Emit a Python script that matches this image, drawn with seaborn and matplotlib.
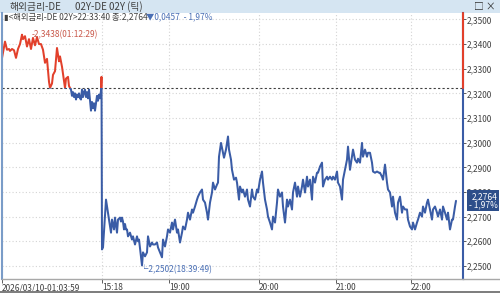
import matplotlib
matplotlib.use("Agg")
import matplotlib.pyplot as plt
import matplotlib.transforms as mtransforms
from matplotlib.patches import Rectangle
from matplotlib.lines import Line2D
from matplotlib.ticker import FixedLocator, FuncFormatter
import numpy as np
import pandas as pd
import seaborn as sns

# ---------------- data ----------------
title_left = "해외금리-DE"
title_right = "02Y-DE 02Y (틱)"
info_text = "▮<해외금리-DE 02Y>22:33:40 종:2,2764"
prev_close = 2.3221
last_price = 2.2764

# tick sequence position (x) and price
ticks = [2, 5, 7, 9, 10, 12, 14, 16, 18, 20, 22, 23, 25, 27, 29, 31, 33, 35, 37, 39, 41, 43, 45, 47, 49,
         50, 52, 53, 55, 57, 59, 60, 62, 65, 66, 68, 69, 70,
         71, 72, 73, 74, 75, 76, 77, 78, 79, 80, 81, 82, 83, 84, 85, 86, 87, 88, 89, 90, 91, 92, 93, 94,
         95, 96, 97, 98, 99, 100, 101, 101.5, 102,
         103, 106, 107, 109, 111, 112, 114, 115, 117, 118, 120, 121, 122, 123, 124, 125, 126, 127, 128,
         130, 132, 133, 135, 137, 138, 139, 142, 143, 145, 147, 148, 150, 152, 153, 155, 157, 158, 160,
         162, 163, 165, 167, 168, 170, 172, 173, 175, 177, 178, 180, 182, 183, 185, 187, 188, 190, 192,
         193, 195, 197, 198, 200, 202, 203, 205, 207, 208, 210, 212, 213, 215, 217, 218, 219, 221, 223,
         224, 226, 228, 229, 231, 232, 234, 236, 237, 239, 240, 242, 243, 245, 247, 248, 250, 252, 253,
         255, 257, 258, 260, 262, 263, 265, 267, 268, 270, 272, 273, 275, 277, 278, 280, 282, 283, 285,
         287, 288, 290, 292, 293, 295, 297, 298, 300, 302, 303, 305, 307, 308, 310, 312, 313, 315, 317,
         318, 320, 322, 323, 325, 327, 328, 330, 332, 333, 335, 337, 338, 340, 342, 343, 345, 347, 348,
         350, 352, 353, 355, 357, 358, 360, 362, 363, 365, 367, 368, 370, 372, 373, 375, 377, 379, 380,
         382, 383, 385, 387, 388, 390, 392, 393, 395, 397, 398, 400, 402, 403, 405, 407, 408, 410, 412,
         413, 415, 417, 418, 420, 422, 423, 425, 427, 428, 430, 432, 433, 435, 437, 438, 440, 442, 443,
         445, 447, 448, 450, 452, 453, 455, 456]
prices = [2.3343, 2.3410, 2.3377, 2.3380, 2.3372, 2.3380, 2.3375, 2.3344, 2.3380, 2.3400, 2.3438, 2.3420,
          2.3432, 2.3390, 2.3420, 2.3380, 2.3425, 2.3395, 2.3428, 2.3400, 2.3400, 2.3377, 2.3324, 2.3340,
          2.3247, 2.3222, 2.3240, 2.3275, 2.3290, 2.3384, 2.3330, 2.3350, 2.3308, 2.3222, 2.3260, 2.3267,
          2.3230, 2.3222,
          2.3215, 2.3190, 2.3205, 2.3185, 2.3200, 2.3175, 2.3195, 2.3185, 2.3200, 2.3180, 2.3175, 2.3215,
          2.3185, 2.3205, 2.3215, 2.3185, 2.3205, 2.3180, 2.3215, 2.3170, 2.3130, 2.3165, 2.3140, 2.3160,
          2.3130, 2.3160, 2.3190, 2.3170, 2.3195, 2.3180, 2.3210, 2.3267, 2.2567,
          2.2575, 2.2769, 2.2741, 2.2688, 2.2635, 2.2688, 2.2648, 2.2696, 2.2635, 2.2688, 2.2696, 2.2680,
          2.2696, 2.2680, 2.2648, 2.2670, 2.2648, 2.2648, 2.2620, 2.2635, 2.2607, 2.2620, 2.2587, 2.2620,
          2.2600, 2.2607, 2.2502, 2.2555, 2.2539, 2.2555, 2.2620, 2.2579, 2.2595, 2.2587, 2.2587, 2.2595,
          2.2575, 2.2555, 2.2535, 2.2607, 2.2579, 2.2620, 2.2648, 2.2635, 2.2676, 2.2648, 2.2688, 2.2635,
          2.2648, 2.2595, 2.2635, 2.2660, 2.2648, 2.2688, 2.2716, 2.2688, 2.2729, 2.2716, 2.2741, 2.2769,
          2.2781, 2.2798, 2.2810, 2.2769, 2.2757, 2.2716, 2.2688, 2.2757, 2.2798, 2.2838, 2.2810, 2.2830,
          2.2838, 2.2943, 2.2999, 2.2959, 2.2939, 2.2972, 2.3025, 2.2972, 2.2931, 2.2890, 2.2850, 2.2858,
          2.2838, 2.2769, 2.2822, 2.2798, 2.2810, 2.2781, 2.2810, 2.2769, 2.2741, 2.2810, 2.2781, 2.2769,
          2.2810, 2.2798, 2.2850, 2.2883, 2.2838, 2.2769, 2.2729, 2.2700, 2.2676, 2.2648, 2.2700, 2.2676,
          2.2757, 2.2810, 2.2781, 2.2798, 2.2741, 2.2676, 2.2769, 2.2741, 2.2769, 2.2729, 2.2798, 2.2838,
          2.2781, 2.2822, 2.2781, 2.2822, 2.2850, 2.2798, 2.2862, 2.2822, 2.2850, 2.2769, 2.2862, 2.2838,
          2.2878, 2.2878, 2.2903, 2.2919, 2.2822, 2.2850, 2.2862, 2.2850, 2.2862, 2.2850, 2.2862, 2.2850,
          2.2883, 2.2838, 2.2822, 2.2769, 2.2850, 2.2890, 2.2931, 2.2984, 2.2890, 2.2943, 2.2972, 2.2931,
          2.2919, 2.2935, 2.2919, 2.2999, 2.2943, 2.2972, 2.2943, 2.2959, 2.2959, 2.2919, 2.2883, 2.2878,
          2.2883, 2.2878, 2.2878, 2.2862, 2.2850, 2.2911, 2.2838, 2.2810, 2.2798, 2.2741, 2.2781, 2.2716,
          2.2688, 2.2757, 2.2781, 2.2716, 2.2741, 2.2729, 2.2729, 2.2688, 2.2660, 2.2648, 2.2676, 2.2648,
          2.2676, 2.2688, 2.2716, 2.2700, 2.2741, 2.2716, 2.2757, 2.2769, 2.2729, 2.2688, 2.2729, 2.2741,
          2.2716, 2.2700, 2.2729, 2.2688, 2.2741, 2.2716, 2.2688, 2.2716, 2.2648, 2.2688, 2.2688, 2.2741,
          2.2764]

x_tick_pos = [2, 102, 169, 259, 336, 411]
x_tick_labels = ["2026/03/10-01:03:59", "15:18", "19:00", "20:00", "21:00", "22:00"]
y_ticks = [2.25, 2.26, 2.27, 2.28, 2.29, 2.30, 2.31, 2.32, 2.33, 2.34, 2.35]

max_label = "2,3438(01:12:29)"
min_label = "2,2502(18:39:49)"

# ---------------- style ----------------
BLUE = "#3a5ca6"
RED = "#e2402b"
sns.set_theme(style="white")
plt.rcParams["font.family"] = ["Noto Sans CJK KR", "DejaVu Sans"]

W, H = 500, 293
fig = plt.figure(figsize=(W / 100, H / 100), dpi=100)
fig.patch.set_facecolor("white")

def fx(px):
    return px / W

def fy(py):
    return 1 - py / H

# title bar
fig.add_artist(Rectangle((0, fy(13)), 1, 13 / H, transform=fig.transFigure,
                         facecolor="#d5e5f2", edgecolor="none", zorder=0))
fig.text(fx(10), fy(7), title_left, fontsize=7, color="#404040", va="center", ha="left")
fig.text(fx(75), fy(7), title_right, fontsize=7, color="#404040", va="center", ha="left")
fig.text(fx(496), fy(7), "□ ×", fontsize=7, color="#303030", va="center", ha="right")
# bottom frame band
fig.add_artist(Rectangle((0, 0), 1, 2.5 / H, transform=fig.transFigure,
                         facecolor="#7f7f7f", edgecolor="none"))
fig.add_artist(Line2D([fx(463), 1], [fy(279), fy(279)], transform=fig.transFigure,
                      color="#a8a8a8", lw=1))

ax = fig.add_axes([fx(2), fy(279), (463 - 2) / W, (279 - 13) / H])
ax.set_facecolor("white")

df = pd.DataFrame({"tick": ticks, "price": prices})
x0, x1 = 2, 463
ax.set_xlim(x0, x1)
ax.set_ylim(2.2447, 2.3526)

sns.lineplot(data=df, x="tick", y="price", color=BLUE, lw=1.45, estimator=None, sort=False, ax=ax)
blue_line = ax.lines[-1]
sns.lineplot(data=df, x="tick", y="price", color=RED, lw=1.45, estimator=None, sort=False, ax=ax)
red_line = ax.lines[-1]
red_line.set_clip_path(Rectangle((x0, prev_close), x1 - x0, 1, transform=ax.transData))
blue_line.set_clip_path(Rectangle((x0, prev_close - 1), x1 - x0, 1, transform=ax.transData))

# reference line (previous close)
ax.axhline(prev_close, color="#404040", ls=(0, (2, 2)), lw=0.8, zorder=1)

# grid
ax.grid(True, color="#d4d4d4", ls=(0, (1, 2)), lw=0.8)
ax.set_axisbelow(True)

# axes / ticks
ax.set_xlabel("")
ax.set_ylabel("")
ax.yaxis.tick_right()
ax.yaxis.set_major_locator(FixedLocator(y_ticks))
ax.yaxis.set_major_formatter(FuncFormatter(lambda v, p: f"{v:.4f}".replace(".", ",")))
ax.tick_params(axis="y", direction="out", length=2, width=0.6, pad=1, labelsize=6,
               colors="#404040", right=True, left=False)
ax.set_xticks(x_tick_pos)
ax.set_xticklabels(x_tick_labels)
for lbl in ax.get_xticklabels():
    lbl.set_ha("left")
ax.tick_params(axis="x", direction="out", length=3, width=0.6, pad=0, labelsize=6,
               colors="#404040", bottom=True)

ax.spines["top"].set_visible(False)
ax.spines["bottom"].set_color("#a8a8a8")
ax.spines["bottom"].set_linewidth(1)
ax.spines["left"].set_color("#7a9cc8")
ax.spines["left"].set_linewidth(1.5)
ax.spines["right"].set_color(BLUE)
ax.spines["right"].set_linewidth(1.5)
ylo, yhi = ax.get_ylim()
frac = (prev_close - ylo) / (yhi - ylo)
ax.axvline(x1, ymin=frac, ymax=1, color=RED, lw=1.5, clip_on=False, zorder=5)

# info line
info = fig.text(fx(4), fy(17), info_text, fontsize=6, color="#404040", va="center", ha="left")
chg = last_price - prev_close
pct = chg / prev_close * 100
chg_text = ("▼" if chg < 0 else "▲") + f"{abs(chg):.4f}".replace(".", ",") + \
           f"  - {abs(pct):.2f}%".replace(".", ",")
fig.text(fx(146), fy(17), chg_text, fontsize=6, color="#4a6fb5", va="center", ha="left")

# max / min annotations
imax = int(np.argmax(prices))
imin = int(np.argmin(prices))
ax.annotate("-" + max_label, xy=(ticks[imax], prices[imax]), xytext=(7, 0),
            textcoords="offset points", fontsize=6, color="#c9584a", va="center", ha="left")
ax.annotate("└" + min_label, xy=(ticks[imin], prices[imin]), xytext=(-1.5, 0.5),
            textcoords="offset points", fontsize=6, color="#4a6fb5", va="top", ha="left")

# last value box
trans = mtransforms.blended_transform_factory(ax.transAxes, ax.transData)
last_txt = f"{last_price:.4f}".replace(".", ",") + "\n" + f"- {abs(pct):.2f}%".replace(".", ",")
ax.text(1.012, last_price, last_txt, transform=trans, fontsize=6, color="white",
        va="center", ha="left", multialignment="right", linespacing=0.95, clip_on=False,
        bbox=dict(boxstyle="square,pad=0.2", facecolor="#2d4e8a", edgecolor="none"), zorder=6)

fig.savefig("out.png", dpi=100)
